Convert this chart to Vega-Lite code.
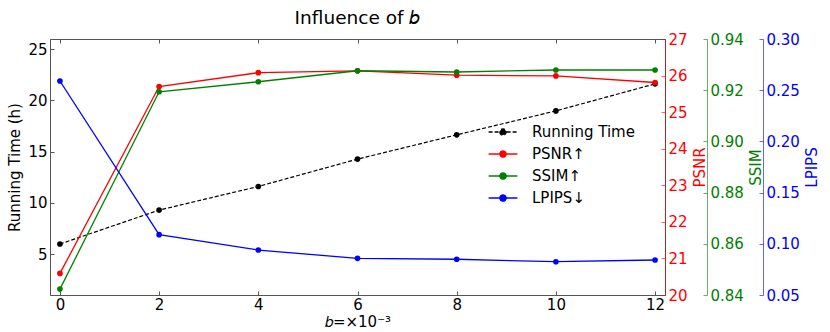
{
  "$schema": "https://vega.github.io/schema/vega-lite/v6.json",
  "autosize": "none",
  "width": 615,
  "height": 256,
  "padding": {"left": 50, "top": 39, "right": 165, "bottom": 37},
  "background": "white",
  "title": {"text": "Influence of 𝑏", "fontSize": 18.5, "font": "DejaVu Sans", "fontWeight": "normal", "color": "#000", "anchor": "middle", "offset": 5},
  "config": {
    "font": "DejaVu Sans",
    "view": {"stroke": "#555", "strokeWidth": 1},
    "axis": {"labelFont": "DejaVu Sans", "titleFont": "DejaVu Sans", "labelFontSize": 15, "titleFontSize": 15, "titleFontWeight": "normal", "grid": false, "tickSize": -4, "labelPadding": 7, "labelColor": "#000", "titleColor": "#000", "domainColor": "#555", "tickColor": "#555"},
    "legend": {"labelFont": "DejaVu Sans", "labelFontSize": 15, "labelColor": "#000"}
  },
  "data": {"values": [
    {"b": 0, "time": 5.98, "psnr": 20.59, "ssim": 0.8423, "lpips": 0.259},
    {"b": 2, "time": 9.29, "psnr": 25.70, "ssim": 0.9194, "lpips": 0.1089},
    {"b": 4, "time": 11.6, "psnr": 26.08, "ssim": 0.9233, "lpips": 0.0939},
    {"b": 6, "time": 14.27, "psnr": 26.13, "ssim": 0.9276, "lpips": 0.0858},
    {"b": 8, "time": 16.64, "psnr": 26.01, "ssim": 0.9271, "lpips": 0.0849},
    {"b": 10, "time": 18.98, "psnr": 25.99, "ssim": 0.9279, "lpips": 0.0825},
    {"b": 12, "time": 21.62, "psnr": 25.81, "ssim": 0.9279, "lpips": 0.0842}
  ]},
  "layer": [
    {
      "encoding": {
        "x": {"field": "b", "type": "quantitative", "scale": {"domain": [-0.2, 12.2], "nice": false, "zero": false},
              "axis": {"values": [0, 2, 4, 6, 8, 10, 12], "title": "𝑏=×10⁻³", "titlePadding": 2, "labelPadding": 6}},
        "y": {"field": "time", "type": "quantitative", "scale": {"domain": [1, 26], "nice": false, "zero": false},
              "axis": {"values": [5, 10, 15, 20, 25], "title": "Running Time (h)", "labelPadding": 7, "titlePadding": 5}},
        "color": {"datum": "Running Time", "type": "nominal",
                  "scale": {"domain": ["Running Time", "PSNR↑", "SSIM↑", "LPIPS↓"], "range": ["#000000", "#ff0000", "#008000", "#0000ff"]},
                  "legend": {"title": null, "orient": "none", "legendX": 444, "legendY": 84, "padding": 0, "rowPadding": 5, "labelOffset": 20,
                             "symbolType": "M-1.8,0H1.8M-0.38,0A0.38,0.38 0 1,0 0.38,0A0.38,0.38 0 1,0 -0.38,0", "symbolSize": 256, "symbolStrokeWidth": 1.5,
                             "encode": {"symbols": {"update": {
                               "fill": {"scale": "color", "field": "value"},
                               "stroke": {"scale": "color", "field": "value"},
                               "fillOpacity": {"value": 1},
                               "strokeDash": [{"test": "datum.label === 'Running Time'", "value": [4, 2]}, {"value": [1, 0]}]
                             }}}}}
      },
      "layer": [
        {"mark": {"type": "line", "strokeDash": [4, 2], "strokeWidth": 1.2}},
        {"mark": {"type": "point", "filled": true, "size": 32, "opacity": 1}}
      ]
    },
    {
      "encoding": {
        "x": {"field": "b", "type": "quantitative", "scale": {"domain": [-0.2, 12.2], "nice": false, "zero": false},
              "axis": {"orient": "top", "values": [0, 2, 4, 6, 8, 10, 12], "labels": false, "domain": false, "title": null}},
        "y": {"field": "psnr", "type": "quantitative", "scale": {"domain": [20, 27], "nice": false, "zero": false},
              "axis": {"orient": "right", "offset": 0, "values": [20, 21, 22, 23, 24, 25, 26, 27], "title": "PSNR", "titleAngle": 270, "titleBaseline": "top",
                       "labelColor": "#ff0000", "titleColor": "#ff0000", "domainColor": "#ff0000", "domainOpacity": 0.6, "tickColor": "#ff0000", "tickOpacity": 0.6, "labelPadding": 7, "titlePadding": 5}},
        "color": {"datum": "PSNR↑", "type": "nominal"}
      },
      "layer": [
        {"mark": {"type": "line", "strokeWidth": 1.3}},
        {"mark": {"type": "point", "filled": true, "size": 32, "opacity": 1}}
      ]
    },
    {
      "encoding": {
        "x": {"field": "b", "type": "quantitative", "scale": {"domain": [-0.2, 12.2], "nice": false, "zero": false}, "axis": null},
        "y": {"field": "ssim", "type": "quantitative", "scale": {"domain": [0.84, 0.94], "nice": false, "zero": false},
              "axis": {"orient": "right", "offset": 42, "values": [0.84, 0.86, 0.88, 0.90, 0.92, 0.94], "format": ".2f", "title": "SSIM", "titleAngle": 270, "titleBaseline": "top",
                       "labelColor": "#008000", "titleColor": "#008000", "domainColor": "#008000", "domainOpacity": 0.6, "tickColor": "#008000", "tickOpacity": 0.6, "labelPadding": 7, "titlePadding": 5}},
        "color": {"datum": "SSIM↑", "type": "nominal"}
      },
      "layer": [
        {"mark": {"type": "line", "strokeWidth": 1.3}},
        {"mark": {"type": "point", "filled": true, "size": 32, "opacity": 1}}
      ]
    },
    {
      "encoding": {
        "x": {"field": "b", "type": "quantitative", "scale": {"domain": [-0.2, 12.2], "nice": false, "zero": false}, "axis": null},
        "y": {"field": "lpips", "type": "quantitative", "scale": {"domain": [0.05, 0.30], "nice": false, "zero": false},
              "axis": {"orient": "right", "offset": 98, "values": [0.05, 0.10, 0.15, 0.20, 0.25, 0.30], "format": ".2f", "title": "LPIPS", "titleAngle": 270, "titleBaseline": "top",
                       "labelColor": "#0000ff", "titleColor": "#0000ff", "domainColor": "#0000ff", "domainOpacity": 0.6, "tickColor": "#0000ff", "tickOpacity": 0.6, "labelPadding": 7, "titlePadding": 5}},
        "color": {"datum": "LPIPS↓", "type": "nominal"}
      },
      "layer": [
        {"mark": {"type": "line", "strokeWidth": 1.3}},
        {"mark": {"type": "point", "filled": true, "size": 32, "opacity": 1}}
      ]
    }
  ],
  "resolve": {"scale": {"y": "independent"}, "axis": {"x": "independent", "y": "independent"}}
}
